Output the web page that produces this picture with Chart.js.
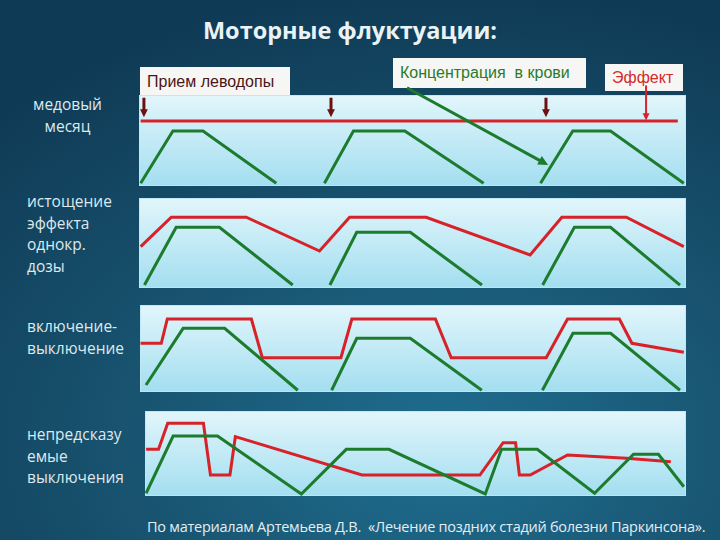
<!DOCTYPE html>
<html>
<head>
<meta charset="utf-8">
<script src="https://cdn.jsdelivr.net/npm/chart.js@4.4.1/dist/chart.umd.min.js"></script>
<style>
  html, body { margin: 0; padding: 0; }
  body {
    width: 720px; height: 540px; overflow: hidden; position: relative;
    font-family: "Open Sans", sans-serif;
    background: radial-gradient(ellipse 90% 85% at 62% 82%, #1f6e90 0%, #18536f 50%, #0f3a55 100%);
  }
  .title { position: absolute; left: 0; width: 700px; top: 14px; text-align: center;
           font-weight: 700; font-size: 23.5px; color: #e9f3f6; }
  .lbl { position: absolute; color: #dde9ef; font-size: 15.5px; line-height: 21.5px; }
  .box { position: absolute; background: #f6f7f5; font-family: "Liberation Sans", Arial, sans-serif;
         font-size: 16px; line-height: 1; box-sizing: border-box; padding-left: 7px; display: flex; align-items: center; }
  .foot { position: absolute; left: 147px; top: 517px; font-size: 14.5px; color: #e4eef2; letter-spacing: -0.25px; white-space: nowrap; }
  canvas { position: absolute; }
</style>
</head>
<body>
<div class="title">Моторные флуктуации:</div>

<div class="box" style="left:140px;top:67px;width:150px;height:29px;color:#4a1515;">Прием леводопы</div>
<div class="box" style="left:393px;top:58px;width:193px;height:30px;color:#2a7a2a;">Концентрация&nbsp; в крови</div>
<div class="box" style="left:605px;top:64px;width:78px;height:27px;color:#d42a2a;">Эффект</div>

<div class="lbl" style="left:0;width:135px;top:94px;text-align:center;">медовый<br>месяц</div>
<div class="lbl" style="left:27px;top:191px;">истощение<br>эффекта<br>однокр.<br>дозы</div>
<div class="lbl" style="left:27px;top:316px;">включение-<br>выключение</div>
<div class="lbl" style="left:27px;top:424px;">непредсказу<br>емые<br>выключения</div>

<canvas id="p1"></canvas>
<canvas id="p2"></canvas>
<canvas id="p3"></canvas>
<canvas id="p4"></canvas>

<div class="foot">По материалам Артемьева Д.В.&nbsp; «Лечение поздних стадий болезни Паркинсона».</div>

<script>
// time 0..100 across each panel, level 0..100 bottom to top; null = break in the line
const conc1T = [0.3, 6.2, 11.7, 25.1, 29.5, 33.9, 39.2, 48.6, 63.0, 68.2, 73.4, 79.3, 86.2, 99.6];
const conc1Y = [3, 60.4, 60.4, 3, null, 3, 60.4, 60.4, 3, null, 3, 60.4, 60.4, 3];
const eff1T = [0.3, 98.5];
const eff1Y = [71.4, 71.4];

const conc2T = [1.0, 6.8, 14.7, 28.1, 31.5, 34.9, 39.8, 49.6, 62.7, 68.2, 73.8, 79.6, 86.2, 98.9];
const conc2Y = [3.3, 67.4, 67.4, 3.3, null, 3.3, 61.9, 61.9, 3.3, null, 3.3, 67.4, 67.4, 3.3];
const eff2T = [0.3, 5.9, 19.6, 33.0, 38.5, 52.5, 71.5, 77.3, 89.1, 99.6];
const eff2Y = [45.9, 78.6, 78.6, 41.1, 78.6, 78.6, 36.7, 78.6, 78.6, 45.9];

const conc3T = [1.1, 7.9, 15.5, 28.9, 32.0, 35.1, 39.7, 49.5, 62.6, 68.2, 73.7, 79.3, 86.2, 98.9];
const conc3Y = [8.0, 73.2, 73.2, 2, null, 2, 61.7, 61.7, 2, null, 2, 67.5, 67.5, 2];
const eff3T = [0.1, 3.9, 5.0, 20.4, 22.4, 36.8, 38.8, 54.1, 57.0, 74.4, 78.3, 87.8, 90.1, 99.6];
const eff3Y = [56.0, 56.0, 83.9, 83.9, 39.4, 39.4, 83.9, 83.9, 39.4, 39.4, 83.9, 83.9, 56.0, 45.6];

const conc4T = [0.2, 5.2, 13.4, 28.9, 37.2, 45.1, 62.9, 65.9, 72.5, 83.1, 90.3, 94.9, 99.6];
const conc4Y = [3.2, 70.6, 70.6, 2.4, 54.9, 54.9, 2.4, 54.9, 54.9, 3.2, 49.1, 49.1, 10.9];
const eff4T = [0.2, 2.5, 4.2, 10.8, 12.1, 15.7, 16.7, 40.1, 61.9, 66.2, 68.5, 69.2, 71.2, 78.1, 89.0, 97.2];
const eff4Y = [54.9, 54.9, 85.5, 85.5, 24.7, 24.7, 69.8, 24.7, 24.7, 62.7, 62.7, 24.7, 24.7, 48.2, 44.4, 40.4];

// levodopa intakes on the first panel (time units)
const doseTimes = [0.9, 35.1, 74.4];

const RED = '#d62228';
const GREEN = '#1c7b2c';

function pts(t, y) {
  return t.map((v, i) => ({x: v, y: y[i]}));
}

function drawArrow(ctx, x1, y1, x2, y2, color, width, head) {
  const a = Math.atan2(y2 - y1, x2 - x1);
  ctx.save();
  ctx.strokeStyle = color;
  ctx.fillStyle = color;
  ctx.lineWidth = width;
  ctx.beginPath();
  ctx.moveTo(x1, y1);
  ctx.lineTo(x2 - Math.cos(a) * head * 0.8, y2 - Math.sin(a) * head * 0.8);
  ctx.stroke();
  ctx.beginPath();
  ctx.moveTo(x2, y2);
  ctx.lineTo(x2 - head * Math.cos(a - 0.45), y2 - head * Math.sin(a - 0.45));
  ctx.lineTo(x2 - head * Math.cos(a + 0.45), y2 - head * Math.sin(a + 0.45));
  ctx.closePath();
  ctx.fill();
  ctx.restore();
}

const panelBg = {
  id: 'panelBg',
  beforeDraw(chart) {
    const {ctx, chartArea: a} = chart;
    const g = ctx.createLinearGradient(0, a.top, 0, a.bottom);
    g.addColorStop(0, '#e2f6fb');
    g.addColorStop(1, '#a3def0');
    ctx.save();
    ctx.fillStyle = g;
    ctx.fillRect(a.left, a.top, a.right - a.left, a.bottom - a.top);
    ctx.strokeStyle = 'rgba(190,232,244,0.9)';
    ctx.lineWidth = 1;
    ctx.strokeRect(a.left + 0.5, a.top + 0.5, a.right - a.left - 1, a.bottom - a.top - 1);
    ctx.restore();
  }
};

const pointers = {
  id: 'pointers',
  afterDatasetsDraw(chart) {
    const {ctx, scales: {x, y}} = chart;
    doseTimes.forEach(t => {
      const px = x.getPixelForValue(t);
      drawArrow(ctx, px, y.getPixelForValue(97), px, y.getPixelForValue(75.5), '#6e1010', 3, 9);
    });
    // "Концентрация в крови" pointer
    drawArrow(ctx, x.getPixelForValue(49.0), y.getPixelForValue(108), x.getPixelForValue(74.8), y.getPixelForValue(23),
      GREEN, 3, 11);
    // "Эффект" pointer
    drawArrow(ctx, x.getPixelForValue(92.7), y.getPixelForValue(110.5), x.getPixelForValue(92.7), y.getPixelForValue(72),
      RED, 2, 8);
  }
};

function makePanel(id, left, top, width, height, padTop, conc, eff, extra) {
  const cv = document.getElementById(id);
  cv.width = width;
  cv.height = height + padTop;
  cv.style.left = left + 'px';
  cv.style.top = (top - padTop) + 'px';
  return new Chart(cv, {
    type: 'line',
    data: {
      datasets: [
        {label: 'Концентрация в крови', data: conc, borderColor: GREEN, borderWidth: 3, clip: 6},
        {label: 'Эффект', data: eff, borderColor: RED, borderWidth: 3, clip: 6}
      ]
    },
    options: {
      responsive: false,
      animation: false,
      spanGaps: false,
      layout: {padding: {top: padTop, left: 0, right: 0, bottom: 0}},
      elements: {point: {radius: 0}, line: {tension: 0}},
      scales: {
        x: {type: 'linear', min: 0, max: 100, display: false},
        y: {type: 'linear', min: 0, max: 100, display: false}
      },
      plugins: {legend: {display: false}, tooltip: {enabled: false}}
    },
    plugins: [panelBg].concat(extra || [])
  });
}

makePanel('p1', 139, 95, 547, 91, 45, pts(conc1T, conc1Y), pts(eff1T, eff1Y), [pointers]);
makePanel('p2', 139, 198, 547, 90, 0, pts(conc2T, conc2Y), pts(eff2T, eff2Y));
makePanel('p3', 140, 305, 546, 87, 0, pts(conc3T, conc3Y), pts(eff3T, eff3Y));
makePanel('p4', 145, 411, 541, 85, 0, pts(conc4T, conc4Y), pts(eff4T, eff4Y));
</script>
</body>
</html>
